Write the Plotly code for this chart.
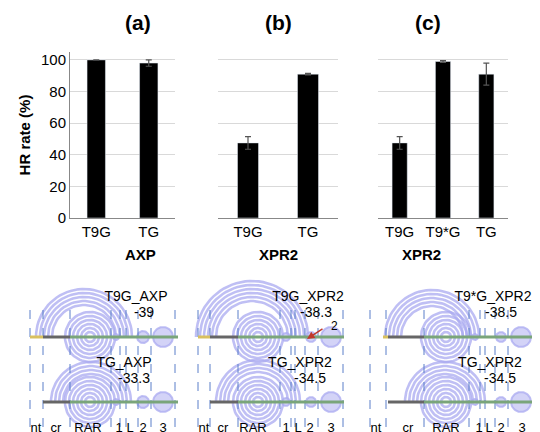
import numpy as np
import plotly.graph_objects as go

# ---- bar data ----
cats_a = ["T9G", "TG"]; vals_a = [100, 98]; err_a = [0, 2]
cats_b = ["T9G", "TG"]; vals_b = [47.5, 91]; err_b = [4, 0.5]
cats_c = ["T9G", "T9*G", "TG"]; vals_c = [47.5, 99, 91]; err_c = [4, 0.5, 7]
group_labels = ["AXP", "XPR2", "XPR2"]
panel_titles = ["(a)", "(b)", "(c)"]

# ---- structure diagrams (pixel-space layout) ----
region_labels = ["nt", "cr", "RAR", "1", "L", "2", "3"]
label_x = [[28, 48, 80, 111, 122, 135, 155],
           [196, 215, 245, 278, 290, 302, 323],
           [368, 400, 438, 471, 481, 493, 514]]
dash_x = [[22, 35, 62, 103, 112, 118, 130, 143, 167],
          [190, 202, 230, 272, 283, 287, 297, 310, 335],
          [362, 378, 416, 461, 472, 477, 487, 500, 527]]
line_start = [[22, 35], [190, 202], [375, 380]]   # top, bottom start
line_end = [170, 336, 527]
yellow_end = [35, 202, 380]
arc_center_top = [76, 244, 424]
arc_radii_top = [[48, 44, 40, 36, 32], [56, 52, 48, 44, 40, 36], [47, 43, 39, 35, 31]]
arc_center_bot = [83, 250, 437]
arc_radii_bot = [[40, 36, 32, 28], [42, 38, 34, 30], [40, 36, 32, 28]]
circle_center = [82, 250, 438]
circle_radii = [25, 21, 17, 13, 9, 5]
small_circles = [[(108, 3), (135, 6), (155, 10)],
                 [(278, 4), (303, 5), (323, 10)],
                 [(467, 3), (493, 5), (513, 10)]]
names_top = ["T9G_AXP", "T9G_XPR2", "T9*G_XPR2"]
energy_top = ["-39", "-38.3", "-38.5"]
names_bot = ["TG_AXP", "TG_XPR2", "TG_XPR2"]
energy_bot = ["-33.3", "-34.5", "-34.5"]
name_x_top = [128, 300, 485]
name_x_bot = [116, 292, 482]
y_top_line, y_bot_line = 329, 394

fig = go.Figure()
bars = [(cats_a, vals_a, err_a), (cats_b, vals_b, err_b), (cats_c, vals_c, err_c)]
domains = [(62/540, 167/540), (210/540, 330/540), (370/540, 500/540)]
for i, (c, v, e) in enumerate(bars):
    ax = "" if i == 0 else str(i + 1)
    fig.add_trace(go.Bar(x=c, y=v, marker_color="black", width=0.35,
                         error_y=dict(type="data", array=e, color="#555", thickness=1.2, width=3),
                         xaxis="x" + ax, yaxis="y" + ax, showlegend=False))
    fig.update_layout(**{
        "xaxis" + ax: dict(domain=domains[i], anchor="y" + ax, showline=True, linecolor="#888",
                           tickfont=dict(size=15, color="black"), ticks=""),
        "yaxis" + ax: dict(domain=[1 - 210/432, 1 - 44/432], range=[0, 105], anchor="x" + ax,
                           dtick=20, gridcolor="#d9d9d9", showline=(i == 0), linecolor="#888",
                           showticklabels=(i == 0), tickfont=dict(size=15, color="black"),
                           zeroline=False),
    })
    cx = (domains[i][0] + domains[i][1]) / 2
    fig.add_annotation(x=cx, y=1 - 14/432, xref="paper", yref="paper", yanchor="middle",
                       text="<b>%s</b>" % panel_titles[i],
                       showarrow=False, font=dict(size=21, color="black"))
    fig.add_annotation(x=cx, y=1 - 246/432, xref="paper", yref="paper", yanchor="middle",
                       text="<b>%s</b>" % group_labels[i],
                       showarrow=False, font=dict(size=15, color="black"))
fig.update_layout(yaxis_title=dict(text="<b>HR rate (%)</b>", font=dict(size=15, color="black"), standoff=6))

# lower diagrams on pixel axis (bottom region only)
A = dict(xaxis="x4", yaxis="y4", showlegend=False, hoverinfo="skip")
lav = "rgba(170,170,240,0.75)"
t = np.linspace(0, np.pi, 40)
tf = np.linspace(0, 2*np.pi, 70)
for p in range(3):
    for ybase, cen, radii in [(y_top_line, arc_center_top[p], arc_radii_top[p]),
                              (y_bot_line, arc_center_bot[p], arc_radii_bot[p])]:
        for r in radii:
            fig.add_trace(go.Scatter(x=cen + r*np.cos(t), y=ybase - r*np.sin(t), mode="lines",
                                     line=dict(color=lav, width=2.6), **A))
        for r in circle_radii:
            fig.add_trace(go.Scatter(x=circle_center[p] + r*np.cos(tf), y=ybase - r*np.sin(tf), mode="lines",
                                     line=dict(color=lav, width=2.6), **A))
        for (sx, sr) in small_circles[p]:
            fig.add_trace(go.Scatter(x=sx + sr*np.cos(tf), y=ybase - sr*np.sin(tf), mode="lines",
                                     fill="toself", fillcolor="rgba(200,200,245,0.8)",
                                     line=dict(color=lav, width=2), **A))
    for dx in dash_x[p]:
        fig.add_trace(go.Scatter(x=[dx, dx], y=[302, 428], mode="lines",
                                 line=dict(color="#5b7fc9", width=1, dash="dash"), **A))
    fig.add_trace(go.Scatter(x=[line_start[p][0], yellow_end[p]], y=[y_top_line]*2, mode="lines",
                             line=dict(color="#d8c060", width=3), **A))
    fig.add_trace(go.Scatter(x=[yellow_end[p], dash_x[p][2]], y=[y_top_line]*2, mode="lines",
                             line=dict(color="#666", width=3), **A))
    fig.add_trace(go.Scatter(x=[dash_x[p][2], line_end[p]], y=[y_top_line]*2, mode="lines",
                             line=dict(color="#7aa57a", width=3), **A))
    fig.add_trace(go.Scatter(x=[line_start[p][1], dash_x[p][2]], y=[y_bot_line]*2, mode="lines",
                             line=dict(color="#666", width=3), **A))
    fig.add_trace(go.Scatter(x=[dash_x[p][2], line_end[p]], y=[y_bot_line]*2, mode="lines",
                             line=dict(color="#7aa57a", width=3), **A))
    fig.add_trace(go.Scatter(x=label_x[p], y=[421]*7, mode="text", text=region_labels,
                             textfont=dict(size=13, color="black"), **A))
    fig.add_trace(go.Scatter(x=[name_x_top[p], name_x_top[p] + 8, name_x_bot[p], name_x_bot[p] + 10],
                             y=[289, 305, 355, 371], mode="text",
                             text=[names_top[p], energy_top[p], names_bot[p], energy_bot[p]],
                             textfont=dict(size=14, color="black"), **A))

fig.add_annotation(x=299, y=331, ax=316, ay=320, xref="x4", yref="y4", axref="x4", ayref="y4",
                   text="", showarrow=True, arrowhead=2, arrowcolor="#c0392b", arrowwidth=1.5)
fig.add_annotation(x=326, y=318, xref="x4", yref="y4", text="2", showarrow=False,
                   font=dict(size=12, color="black"))

fig.update_layout(
    xaxis4=dict(domain=[0, 1], range=[0, 540], visible=False, anchor="y4", fixedrange=True),
    yaxis4=dict(domain=[0, 1 - 256/432], range=[432, 256], visible=False, anchor="x4", fixedrange=True),
    width=540, height=432, margin=dict(l=0, r=0, t=0, b=0, autoexpand=False),
    plot_bgcolor="rgba(0,0,0,0)", paper_bgcolor="white", font=dict(family="Liberation Sans, Arial"),
)
fig.write_html("out.html")
